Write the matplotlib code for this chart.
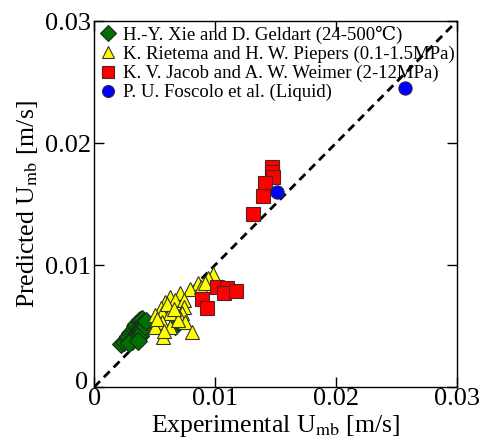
import numpy as np
import matplotlib
matplotlib.use("Agg")
import matplotlib.pyplot as plt
from matplotlib.transforms import ScaledTranslation

plt.rcParams["font.family"] = ["Liberation Serif", "DejaVu Serif"]
plt.rcParams["mathtext.fontset"] = "stix"

# H.-Y. Xie and D. Geldart
xie_exp = [0.0022, 0.0025, 0.0027, 0.0028, 0.0030, 0.0031, 0.0033, 0.0034, 0.0035,
           0.0037, 0.0038, 0.0040, 0.0041, 0.0039, 0.0037, 0.0035, 0.0033, 0.0031,
           0.0029, 0.0038, 0.0040, 0.0042, 0.0043, 0.0036, 0.0067, 0.0069]
xie_pred = [0.0035, 0.0037, 0.0040, 0.0042, 0.0044, 0.0046, 0.0048, 0.0050, 0.0052,
            0.0054, 0.0055, 0.0056, 0.0053, 0.0050, 0.0047, 0.0043, 0.0040, 0.0038,
            0.0036, 0.0042, 0.0045, 0.0050, 0.0054, 0.0038, 0.0050, 0.0054]

# K. Rietema and H. W. Piepers
rie_exp = [0.0098, 0.0094, 0.0086, 0.0079, 0.0071, 0.0063, 0.0059, 0.0067, 0.0074,
           0.0074, 0.0073, 0.0055, 0.0056, 0.0050, 0.0063, 0.0071, 0.0075, 0.0056,
           0.0050, 0.0057, 0.0081, 0.0063, 0.0069, 0.0088, 0.0092, 0.0060, 0.0066,
           0.0052, 0.0058]
rie_pred = [0.0093, 0.0089, 0.0085, 0.0080, 0.0077, 0.0074, 0.0070, 0.0071, 0.0071,
            0.0066, 0.0061, 0.0065, 0.0061, 0.0059, 0.0061, 0.0057, 0.0053, 0.0053,
            0.0049, 0.0041, 0.0045, 0.0049, 0.0055, 0.0082, 0.0085, 0.0068, 0.0064,
            0.0056, 0.0046]

# K. V. Jacob and A. W. Weimer
jac_exp = [0.0102, 0.0110, 0.0107, 0.0117, 0.0089, 0.0093,
           0.0147, 0.0147, 0.0148, 0.0141, 0.0140, 0.0131]
jac_pred = [0.0082, 0.0081, 0.0077, 0.0079, 0.0072, 0.0065,
            0.0180, 0.0176, 0.0172, 0.0167, 0.0157, 0.0142]

# P. U. Foscolo et al.
fos_exp = [0.0151, 0.0257]
fos_pred = [0.0160, 0.0245]

ticks = [0, 0.01, 0.02, 0.03]
tick_labels = ["0", "0.01", "0.02", "0.03"]

fig = plt.figure(figsize=(4.80, 4.47), dpi=100)
ax = fig.add_axes([0.196, 0.134, 0.756, 0.819])

ax.plot([0, 0.03], [0, 0.03], "k--", lw=2, dashes=(3, 2), zorder=1)

ax.plot(xie_exp, xie_pred, "D", color="#007000", mec="#1a2a1a", ms=9, mew=0.8,
        ls="none", label="H.-Y. Xie and D. Geldart (24-500\u2103)")
ax.plot(rie_exp, rie_pred, "^", color="#ffff00", mec="#333333", ms=10, mew=0.8,
        ls="none", label="K. Rietema and H. W. Piepers (0.1-1.5MPa)")
ax.plot(jac_exp, jac_pred, "s", color="#ff0000", mec="#552222", ms=10, mew=0.8,
        ls="none", label="K. V. Jacob and A. W. Weimer (2-12MPa)")
ax.plot(fos_exp, fos_pred, "o", color="#0000ff", mec="#222255", ms=9.5, mew=0.8,
        ls="none", label="P. U. Foscolo et al. (Liquid)")

ax.set_xlim(0, 0.03)
ax.set_ylim(0, 0.03)
ax.set_xticks(ticks)
ax.set_yticks(ticks)
ax.set_xticklabels(tick_labels)
ax.set_yticklabels(tick_labels)
ax.tick_params(direction="in", top=True, right=True, length=7, width=1,
               labelsize=19)
ax.tick_params(axis="x", pad=1)
ax.tick_params(axis="y", pad=2)
for s in ax.spines.values():
    s.set_linewidth(1)

# nudge the y "0" up a little so it sits in the corner like the original
y0 = ax.yaxis.get_major_ticks()[0].label1
y0.set_transform(y0.get_transform() + ScaledTranslation(-2 / 72, 5 / 72, fig.dpi_scale_trans))

ax.set_xlabel(r"Experimental U$_{\rm mb}$ [m/s]", fontsize=18.5, labelpad=2)
ax.set_ylabel(r"Predicted U$_{\rm mb}$ [m/s]", fontsize=18.5, labelpad=4)

leg = ax.legend(loc="upper left", frameon=False, fontsize=13.5, handletextpad=0.3,
                borderaxespad=0.2, borderpad=0.05, labelspacing=0.1,
                handlelength=1.0, markerscale=0.9)

fig.savefig("out.png", dpi=100)
